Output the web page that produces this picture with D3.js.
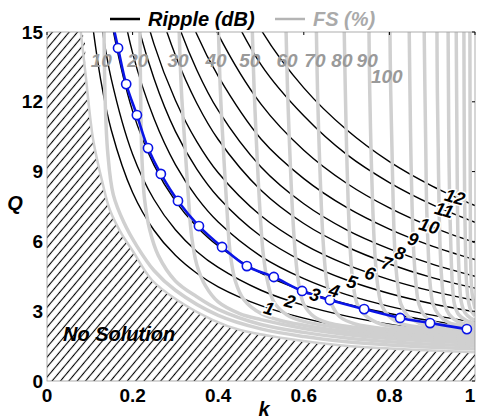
<!DOCTYPE html>
<html>
<head>
<meta charset="utf-8">
<script src="https://cdn.jsdelivr.net/npm/d3@7"></script>
<style>
  body { margin: 0; background: #fff; }
  text { font-family: "Liberation Sans", Arial, sans-serif; font-weight: bold; }
</style>
</head>
<body>
<svg id="chart" width="477" height="419"></svg>
<script>
// axis ticks
const kTicks = [0, 0.2, 0.4, 0.6, 0.8, 1];
const kTickLabels = ["0", "0.2", "0.4", "0.6", "0.8", "1"];
const qTicks = [0, 3, 6, 9, 12, 15];

// ripple (dB) contours, Q read at each k of kGrid (null = off the chart)
const kGrid = [0.1, 0.125, 0.15, 0.2, 0.25, 0.3, 0.35, 0.4, 0.5, 0.6, 0.7, 0.8, 0.9, 1.0];
const rippleLevels = [1, 2, 3, 4, 5, 6, 7, 8, 9, 10, 11, 12];
const rippleQ = [
  [16.2, 13.0, 10.8, 8.1, 6.48, 5.4, 4.63, 4.05, 3.24, 2.7, 2.31, 2.03, 1.8, 1.62],
  [19.5, 15.6, 13.0, 9.75, 7.8, 6.5, 5.57, 4.88, 3.9, 3.25, 2.79, 2.44, 2.17, 1.95],
  [23.2, 18.6, 15.5, 11.6, 9.28, 7.73, 6.63, 5.8, 4.64, 3.87, 3.31, 2.9, 2.58, 2.32],
  [null, 22.6, 18.8, 14.1, 11.28, 9.3, 7.89, 6.83, 5.36, 4.4, 3.71, 3.21, 2.83, 2.53],
  [null, null, 21.7, 16.25, 13.0, 10.73, 9.11, 7.9, 6.22, 5.12, 4.34, 3.76, 3.32, 2.97],
  [null, null, 24.1, 18.1, 14.48, 12.07, 10.29, 8.95, 7.1, 5.87, 5.0, 4.36, 3.86, 3.46],
  [null, null, null, 21.0, 16.8, 14.0, 11.94, 10.38, 8.2, 6.77, 5.77, 5.03, 4.44, 3.99],
  [null, null, null, 23.5, 18.8, 15.67, 13.37, 11.63, 9.2, 7.62, 6.5, 5.68, 5.02, 4.5],
  [null, null, null, 26.1, 20.9, 17.4, 14.9, 13.1, 10.4, 8.7, 7.46, 6.53, 5.8, 5.22],
  [null, null, null, null, 23.8, 19.8, 17.0, 14.9, 11.9, 9.92, 8.5, 7.44, 6.61, 5.95],
  [null, null, null, null, 27.3, 22.7, 19.5, 17.1, 13.6, 11.4, 9.74, 8.53, 7.58, 6.82],
  [null, null, null, null, null, 25.1, 21.5, 18.9, 15.1, 12.6, 10.8, 9.43, 8.38, 7.54]
];
const rippleLabelK = [0.519, 0.568, 0.626, 0.671, 0.713, 0.755, 0.794, 0.825, 0.855, 0.893, 0.928, 0.953];
const rippleLabelQ = [3.12, 3.43, 3.71, 3.89, 4.26, 4.63, 5.07, 5.5, 6.1, 6.66, 7.35, 7.91];

// FS (%) contours as [k, Q] points
const fsLevels = [10, 20, 30, 40, 50, 60, 70, 80, 90, 100, 110, 120, 130, 140, 150, 160, 170];
const fsCurves = [
  [[0.133, 15.5], [0.136, 12], [0.142, 9.8], [0.155, 8.0], [0.18, 6.8], [0.21, 5.8], [0.25, 4.75], [0.3, 3.9], [0.4, 2.82], [0.5, 2.24], [0.6, 1.91], [0.7, 1.69], [0.8, 1.55], [0.9, 1.45], [1.0, 1.37]],
  [[0.217, 15.5], [0.219, 12], [0.222, 9.5], [0.228, 7.8], [0.24, 6.5], [0.26, 5.4], [0.3, 4.3], [0.35, 3.62], [0.4, 3.08], [0.5, 2.43], [0.6, 2.09], [0.7, 1.85], [0.8, 1.69], [0.9, 1.58], [1.0, 1.5]],
  [[0.308, 15.5], [0.314, 12.5], [0.322, 10.2], [0.33, 8], [0.338, 6.2], [0.35, 5.0], [0.37, 4.1], [0.4, 3.4], [0.45, 2.9], [0.5, 2.64], [0.6, 2.26], [0.7, 2.0], [0.8, 1.83], [0.9, 1.71], [1.0, 1.62]],
  [[0.4, 15.5], [0.405, 12.5], [0.412, 10], [0.42, 7.5], [0.428, 5.5], [0.44, 4.3], [0.46, 3.5], [0.5, 2.9], [0.55, 2.58], [0.6, 2.4], [0.7, 2.12], [0.8, 1.94], [0.9, 1.82], [1.0, 1.72]],
  [[0.479, 15.5], [0.484, 12.5], [0.49, 10], [0.497, 7.5], [0.505, 5.5], [0.515, 4.3], [0.53, 3.4], [0.56, 2.85], [0.6, 2.56], [0.7, 2.24], [0.8, 2.04], [0.9, 1.91], [1.0, 1.81]],
  [[0.558, 15.5], [0.562, 12.5], [0.567, 10], [0.573, 7.5], [0.58, 5.5], [0.588, 4.2], [0.6, 3.3], [0.625, 2.75], [0.66, 2.48], [0.7, 2.35], [0.8, 2.14], [0.9, 2.0], [1.0, 1.89]],
  [[0.629, 15.5], [0.632, 12.5], [0.636, 10], [0.641, 7.5], [0.647, 5.5], [0.654, 4.2], [0.665, 3.3], [0.685, 2.75], [0.72, 2.45], [0.8, 2.22], [0.9, 2.08], [1.0, 1.97]],
  [[0.694, 15.5], [0.697, 12.5], [0.7, 10], [0.704, 7.5], [0.709, 5.5], [0.715, 4.2], [0.725, 3.3], [0.745, 2.8], [0.78, 2.45], [0.85, 2.25], [0.92, 2.13], [1.0, 2.04]],
  [[0.752, 15.5], [0.754, 12.5], [0.757, 10], [0.761, 7.5], [0.766, 5.5], [0.772, 4.2], [0.781, 3.3], [0.798, 2.8], [0.83, 2.45], [0.9, 2.26], [1.0, 2.12]],
  [[0.801, 15.5], [0.803, 12.5], [0.806, 10], [0.809, 7.5], [0.813, 5.5], [0.819, 4.2], [0.827, 3.3], [0.843, 2.8], [0.87, 2.48], [0.93, 2.3], [1.0, 2.18]],
  [[0.846, 15.5], [0.848, 12.5], [0.85, 10], [0.853, 7.5], [0.857, 5.5], [0.862, 4.2], [0.869, 3.3], [0.883, 2.8], [0.91, 2.48], [0.96, 2.32], [1.0, 2.24]],
  [[0.881, 15.5], [0.883, 12.5], [0.885, 10], [0.887, 7.5], [0.891, 5.5], [0.895, 4.2], [0.902, 3.3], [0.915, 2.85], [0.94, 2.5], [0.98, 2.36], [1.0, 2.3]],
  [[0.911, 15.5], [0.912, 12.5], [0.914, 10], [0.916, 7.5], [0.919, 5.5], [0.923, 4.2], [0.929, 3.3], [0.94, 2.85], [0.96, 2.55], [1.0, 2.37]],
  [[0.937, 15.5], [0.938, 12.5], [0.939, 10], [0.941, 7.5], [0.944, 5.5], [0.947, 4.2], [0.952, 3.3], [0.962, 2.85], [0.98, 2.6], [1.0, 2.48]],
  [[0.956, 15.5], [0.957, 12.5], [0.958, 10], [0.959, 7.5], [0.961, 5.5], [0.964, 4.2], [0.968, 3.4], [0.976, 2.95], [0.99, 2.7], [1.0, 2.62]],
  [[0.974, 15.5], [0.975, 10], [0.976, 7.5], [0.978, 5.5], [0.98, 4.3], [0.984, 3.5], [0.99, 3.05], [1.0, 2.8]],
  [[0.988, 15.5], [0.989, 8], [0.99, 5], [0.993, 3.8], [1.0, 3.1]]
];
const fsLabelLevels = [10, 20, 30, 40, 50, 60, 70, 80, 90, 100];
const fsLabelK = [0.127, 0.212, 0.306, 0.395, 0.474, 0.561, 0.626, 0.689, 0.748, 0.794];
const fsLabelQ = [13.8, 13.8, 13.8, 13.8, 13.8, 13.8, 13.8, 13.8, 13.8, 13.1];

// no-solution boundary
const boundaryK = [0.079, 0.09, 0.108, 0.13, 0.147, 0.175, 0.2, 0.245, 0.304, 0.388, 0.451, 0.55, 0.678, 0.8, 0.9, 1.0];
const boundaryQ = [15, 13.2, 10.36, 8.5, 7.35, 6.3, 5.6, 4.34, 3.48, 2.62, 2.19, 1.85, 1.55, 1.4, 1.31, 1.24];

// optimum design (blue)
const blueLineK = [0.152, 0.166, 0.185, 0.21, 0.236, 0.266, 0.306, 0.355, 0.409, 0.467, 0.53, 0.596, 0.661, 0.741, 0.825, 0.895, 0.981];
const blueLineQ = [15.5, 14.31, 12.76, 11.43, 10.01, 8.9, 7.74, 6.66, 5.76, 4.94, 4.47, 3.87, 3.48, 3.09, 2.71, 2.49, 2.23];
const blueMarkK = [0.166, 0.185, 0.21, 0.236, 0.266, 0.306, 0.355, 0.409, 0.467, 0.53, 0.596, 0.661, 0.741, 0.825, 0.895, 0.981];
const blueMarkQ = [14.31, 12.76, 11.43, 10.01, 8.9, 7.74, 6.66, 5.76, 4.94, 4.47, 3.87, 3.48, 3.09, 2.71, 2.49, 2.23];

const plotLeft = 47, plotRight = 475, plotTop = 32, plotBottom = 381;
const grayLine = "#d0d0d0";
const grayText = "#9a9a9a";

const svg = d3.select("#chart");
svg.append("rect").attr("width", 477).attr("height", 419).attr("fill", "#fff");

const x = d3.scaleLinear().domain([0, 1]).range([plotLeft, plotRight]);
const y = d3.scaleLinear().domain([0, 15]).range([plotBottom, plotTop]);

const defs = svg.append("defs");
defs.append("clipPath").attr("id", "plotClip")
  .append("rect").attr("x", plotLeft).attr("y", plotTop)
  .attr("width", plotRight - plotLeft).attr("height", plotBottom - plotTop);
const hatch = defs.append("pattern").attr("id", "hatch")
  .attr("width", 6.4).attr("height", 6.4)
  .attr("patternUnits", "userSpaceOnUse")
  .attr("patternTransform", "rotate(40)");
hatch.append("line").attr("x1", 3.2).attr("y1", 0).attr("x2", 3.2).attr("y2", 6.4)
  .attr("stroke", "#000").attr("stroke-width", 1.1);

const line = d3.line()
  .defined(d => d[1] != null)
  .x(d => x(d[0]))
  .y(d => y(d[1]))
  .curve(d3.curveCatmullRom.alpha(0.5));

const plot = svg.append("g").attr("clip-path", "url(#plotClip)");

// ripple contours
plot.selectAll(".ripple")
  .data(rippleQ.map(qs => kGrid.map((k, i) => [k, qs[i]])))
  .join("path")
  .attr("class", "ripple")
  .attr("d", line)
  .attr("fill", "none")
  .attr("stroke", "#000")
  .attr("stroke-width", 1.4);

// FS contours
plot.selectAll(".fs")
  .data(fsCurves)
  .join("path")
  .attr("class", "fs")
  .attr("d", line)
  .attr("fill", "none")
  .attr("stroke", grayLine)
  .attr("stroke-width", 3.5);

// blue optimum line
plot.append("path")
  .datum(blueLineK.map((k, i) => [k, blueLineQ[i]]))
  .attr("d", line)
  .attr("fill", "none")
  .attr("stroke", "#0a14e6")
  .attr("stroke-width", 2.6);

plot.selectAll(".marker")
  .data(blueMarkK.map((k, i) => [k, blueMarkQ[i]]))
  .join("circle")
  .attr("class", "marker")
  .attr("cx", d => x(d[0]))
  .attr("cy", d => y(d[1]))
  .attr("r", 4.6)
  .attr("fill", "#fff")
  .attr("stroke", "#0a14e6")
  .attr("stroke-width", 1.6);

// no solution region
const boundary = boundaryK.map((k, i) => [k, boundaryQ[i]]);
const area = d3.area()
  .x(d => x(d[0]))
  .y0(y(0))
  .y1(d => y(d[1]))
  .curve(d3.curveCatmullRom.alpha(0.5));
const region = [[0, 15]].concat(boundary);
plot.append("path").datum(region).attr("d", area).attr("fill", "#fff");
plot.append("path").datum(region).attr("d", area).attr("fill", "url(#hatch)");
plot.append("path").datum(boundary).attr("d", line)
  .attr("fill", "none").attr("stroke", grayLine).attr("stroke-width", 2.5);

// contour labels
svg.selectAll(".rippleLabel")
  .data(rippleLevels)
  .join("text")
  .attr("class", "rippleLabel")
  .attr("transform", (d, i) => `translate(${x(rippleLabelK[i])},${y(rippleLabelQ[i])}) rotate(16)`)
  .attr("text-anchor", "middle")
  .attr("dy", "0.35em")
  .attr("font-size", 18)
  .attr("font-style", "italic")
  .attr("fill", "#000")
  .attr("stroke", "#fff")
  .attr("stroke-width", 3)
  .attr("paint-order", "stroke")
  .text(d => d);

svg.selectAll(".fsLabel")
  .data(fsLabelLevels)
  .join("text")
  .attr("class", "fsLabel")
  .attr("x", (d, i) => x(fsLabelK[i]))
  .attr("y", (d, i) => y(fsLabelQ[i]))
  .attr("text-anchor", "middle")
  .attr("dy", "0.35em")
  .attr("font-size", 19)
  .attr("font-style", "italic")
  .attr("fill", grayText)
  .text(d => d);

svg.append("text")
  .attr("x", 63).attr("y", 341)
  .attr("font-size", 20).attr("font-style", "italic")
  .text("No Solution");

// frame and ticks
svg.append("rect")
  .attr("x", plotLeft).attr("y", plotTop)
  .attr("width", plotRight - plotLeft).attr("height", plotBottom - plotTop)
  .attr("fill", "none").attr("stroke", "#999").attr("stroke-width", 0.8);

svg.selectAll(".kTickTop").data(kTicks).join("line")
  .attr("x1", d => x(d)).attr("x2", d => x(d))
  .attr("y1", plotTop).attr("y2", plotTop + 3)
  .attr("stroke", "#000");
svg.selectAll(".qTickRight").data(qTicks).join("line")
  .attr("x1", plotRight).attr("x2", plotRight - 3)
  .attr("y1", d => y(d)).attr("y2", d => y(d))
  .attr("stroke", "#000");

svg.selectAll(".kLabel").data(kTicks).join("text")
  .attr("class", "kLabel")
  .attr("x", d => Math.min(x(d), 470)).attr("y", 402)
  .attr("text-anchor", "middle")
  .attr("font-size", 19)
  .text((d, i) => kTickLabels[i]);

svg.selectAll(".qLabel").data(qTicks).join("text")
  .attr("class", "qLabel")
  .attr("x", 43).attr("y", d => y(d))
  .attr("dy", "0.35em")
  .attr("text-anchor", "end")
  .attr("font-size", 19)
  .text(d => d);

svg.append("text")
  .attr("x", 15).attr("y", 210)
  .attr("text-anchor", "middle")
  .attr("font-size", 20).attr("font-style", "italic")
  .text("Q");
svg.append("text")
  .attr("x", 264).attr("y", 416)
  .attr("text-anchor", "middle")
  .attr("font-size", 20).attr("font-style", "italic")
  .text("k");

// legend
svg.append("line")
  .attr("x1", 110).attr("x2", 140).attr("y1", 19).attr("y2", 19)
  .attr("stroke", "#000").attr("stroke-width", 2.5);
svg.append("text")
  .attr("x", 148).attr("y", 26)
  .attr("font-size", 20).attr("font-style", "italic")
  .text("Ripple (dB)");
svg.append("line")
  .attr("x1", 275).attr("x2", 305).attr("y1", 19).attr("y2", 19)
  .attr("stroke", "#b4b4b4").attr("stroke-width", 2.5);
svg.append("text")
  .attr("x", 313).attr("y", 26)
  .attr("font-size", 20).attr("font-style", "italic")
  .attr("fill", "#aaa")
  .text("FS (%)");
</script>
</body>
</html>
